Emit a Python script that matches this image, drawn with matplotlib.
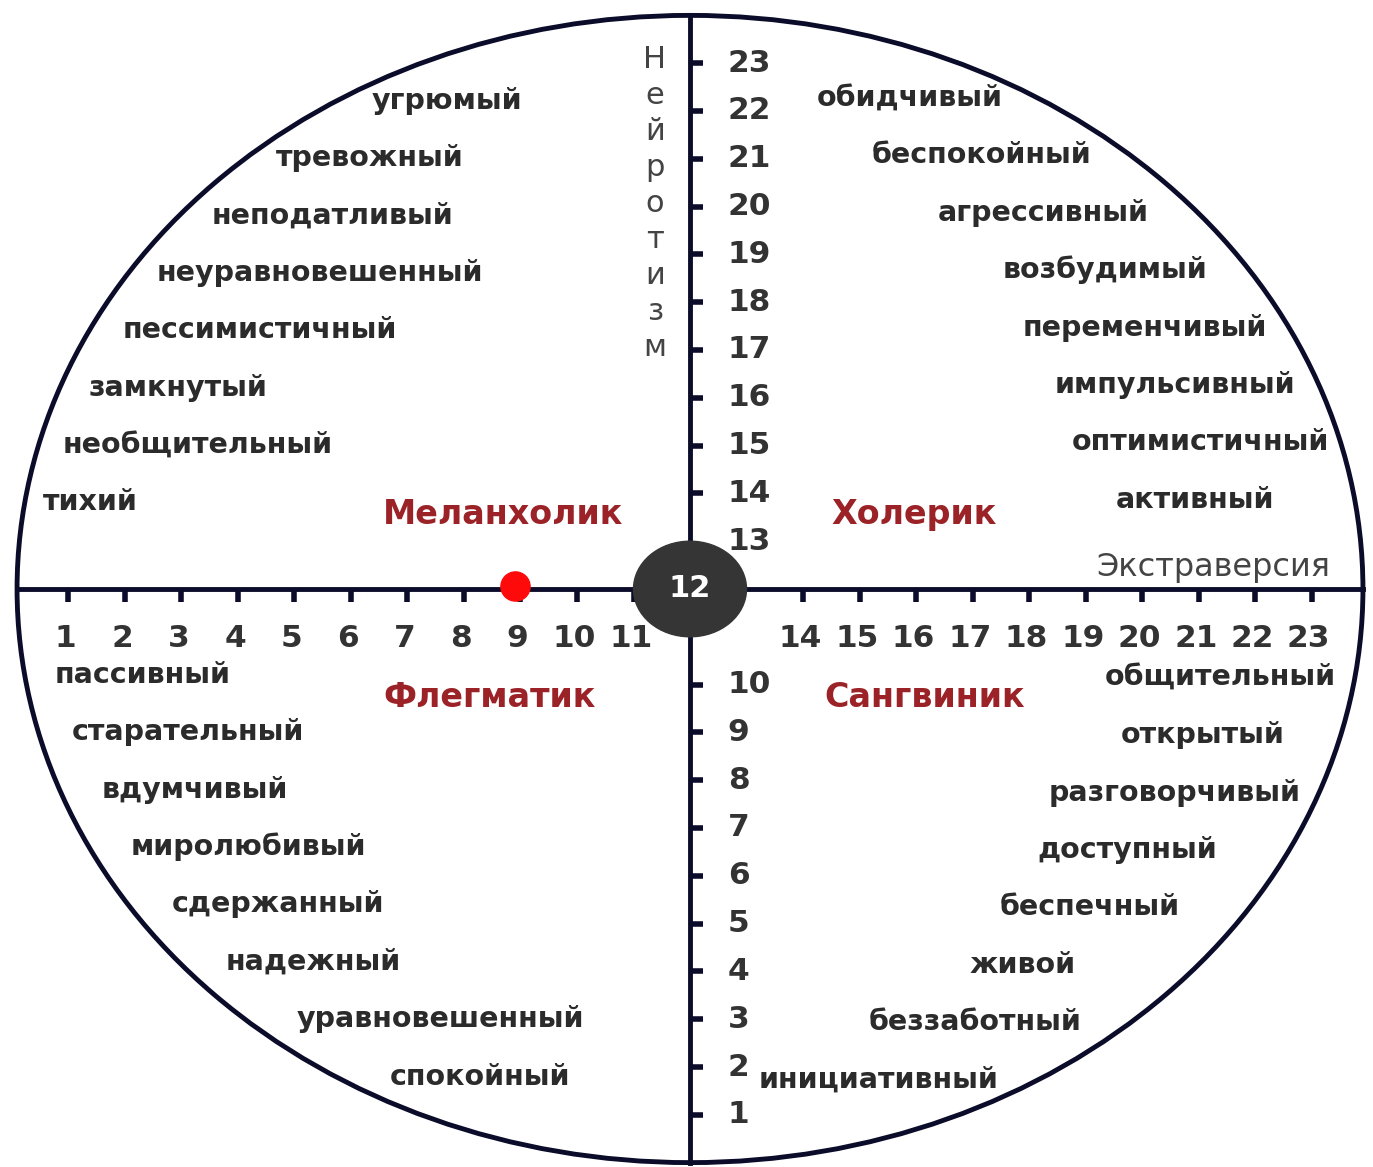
import numpy as np
import matplotlib.pyplot as plt
from matplotlib.patches import Ellipse

# scale values (extraversion / neuroticism, centre at 12)
x_ticks = [1, 2, 3, 4, 5, 6, 7, 8, 9, 10, 11, 14, 15, 16, 17, 18, 19, 20, 21, 22, 23]
y_ticks = [1, 2, 3, 4, 5, 6, 7, 8, 9, 10, 14, 15, 16, 17, 18, 19, 20, 21, 22, 23]
y_labels = [1, 2, 3, 4, 5, 6, 7, 8, 9, 10, 13, 14, 15, 16, 17, 18, 19, 20, 21, 22, 23]
center = 12
point_x, point_y = 8.9, 12.06

quadrants = ['Меланхолик', 'Холерик', 'Флегматик', 'Сангвиник']
quad_pos = [(8.69, 13.55), (15.96, 13.55), (8.46, 9.72), (16.16, 9.74)]

words_tl = ['угрюмый', 'тревожный', 'неподатливый', 'неуравновешенный',
            'пессимистичный', 'замкнутый', 'необщительный', 'тихий']
x_tl = [7.70, 6.34, 5.68, 5.45, 4.39, 2.94, 3.29, 1.38]
words_tr = ['обидчивый', 'беспокойный', 'агрессивный', 'возбудимый',
            'переменчивый', 'импульсивный', 'оптимистичный', 'активный']
x_tr = [15.89, 17.17, 18.25, 19.35, 20.05, 20.58, 21.03, 20.94]
words_bl = ['пассивный', 'старательный', 'вдумчивый', 'миролюбивый',
            'сдержанный', 'надежный', 'уравновешенный', 'спокойный']
x_bl = [2.32, 3.12, 3.24, 4.18, 4.71, 5.33, 7.58, 8.28]
words_br = ['общительный', 'открытый', 'разговорчивый', 'доступный',
            'беспечный', 'живой', 'беззаботный', 'инициативный']
x_br = [21.38, 21.08, 20.58, 19.73, 19.08, 17.88, 17.04, 15.33]

axis_c = '#0b0b2a'
txt_c = '#333333'

fig = plt.figure(figsize=(13.73, 11.67), dpi=100)
ax = fig.add_axes([0, 0, 1, 1])
ax.set_xlim(-0.212, 24.088)
ax.set_ylim(-0.092, 24.322)
ax.axis('off')

ax.add_patch(Ellipse((center, center), 23.82, 24.0, fill=False, ec=axis_c, lw=3.5, zorder=2))
ax.plot([center - 11.91, center + 11.91], [center, center], color=axis_c, lw=3.5, zorder=2)
ax.plot([center, center], [0, 24], color=axis_c, lw=3.5, zorder=2)

ax.vlines(x_ticks, center - 0.27, center, color=axis_c, lw=4, zorder=2)
ax.hlines(y_ticks, center, center + 0.23, color=axis_c, lw=4, zorder=2)

for v in x_ticks:
    ax.text(v - 0.05, 10.97, str(v), ha='center', va='center', fontsize=22.5,
            fontweight='bold', color=txt_c)
for v in y_labels:
    ax.text(12.67, v, str(v), ha='left', va='center', fontsize=22.5,
            fontweight='bold', color=txt_c)

ax.add_patch(Ellipse((center, center), 2.0, 2.0, color='#353535', zorder=4))
ax.text(center, center, '12', ha='center', va='center', fontsize=22,
        fontweight='bold', color='white', zorder=5)

ax.plot(point_x, point_y, 'o', color='#ff0a0a', markersize=21, zorder=6)

for i, ch in enumerate('Нейротизм'):
    ax.text(11.38, 23.07 - 0.753 * i, ch, ha='center', va='center', fontsize=22,
            color='#444444')
ax.text(23.33, 12.46, 'Экстраверсия', ha='right', va='center', fontsize=23, color='#444444')

for name, (qx, qy) in zip(quadrants, quad_pos):
    ax.text(qx, qy, name, ha='center', va='center', fontsize=24,
            fontweight='bold', color='#9b2226')

for words, xs, y0 in [(words_tl, x_tl, 22.21), (words_tr, x_tr, 22.27),
                      (words_bl, x_bl, 10.2), (words_br, x_br, 10.14)]:
    for i, (w, wx) in enumerate(zip(words, xs)):
        ax.text(wx, y0 - 1.2 * i, w, ha='center', va='center', fontsize=20.5,
                fontweight='bold', color='#2b2b2b')

fig.savefig('out.png', dpi=100)
